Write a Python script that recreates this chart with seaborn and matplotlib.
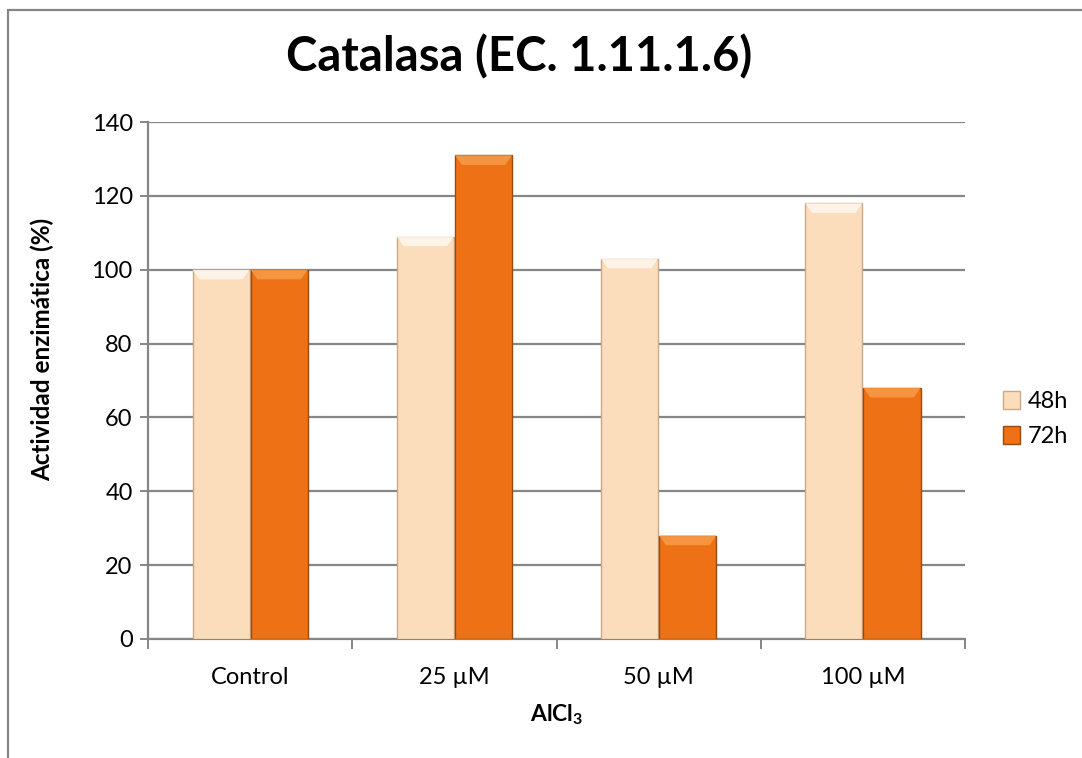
import numpy as np
import pandas as pd
import matplotlib
matplotlib.use("Agg")
import matplotlib.pyplot as plt
from matplotlib.patches import Polygon, Rectangle
import seaborn as sns

# Data
categories = ["Control", "25 µM", "50 µM", "100 µM"]
series_names = ["48h", "72h"]
values_48h = [100, 109, 103, 118]
values_72h = [100, 131, 28, 68]
y_ticks = [0, 20, 40, 60, 80, 100, 120, 140]

colors = {"48h": "#FCDDBB", "72h": "#EF7115"}
edge_colors = {"48h": "#C9A88A", "72h": "#9A4A0E"}
top_colors = {"48h": "#FFF6EC", "72h": "#F79A45"}

df = pd.DataFrame({
    "AlCl3": categories * 2,
    "Tiempo": ["48h"] * len(categories) + ["72h"] * len(categories),
    "Actividad": values_48h + values_72h,
})

sns.set_theme(style="white")
plt.rcParams["font.family"] = ["Lato", "DejaVu Sans"]
plt.rcParams["mathtext.fontset"] = "custom"
plt.rcParams["mathtext.rm"] = "Lato"
plt.rcParams["mathtext.bf"] = "Lato:bold"
plt.rcParams["text.color"] = "black"
plt.rcParams["axes.labelcolor"] = "black"
plt.rcParams["xtick.color"] = "black"
plt.rcParams["ytick.color"] = "black"

fig = plt.figure(figsize=(10.82, 7.58), dpi=100)
ax = fig.add_axes([0.1368, 0.157, 0.7551, 0.682])

sns.barplot(data=df, x="AlCl3", y="Actividad", hue="Tiempo",
            order=categories, hue_order=series_names, palette=colors,
            width=0.57, gap=0.02, saturation=1, ax=ax, legend=False, zorder=3)

# Bevelled look: darker outline and lighter top face on every bar
bars = [p for p in ax.patches if isinstance(p, Rectangle)]
n = len(categories)
for i, p in enumerate(bars):
    s = series_names[i // n]
    p.set_edgecolor(edge_colors[s])
    p.set_linewidth(1.0)
    x0, w, h = p.get_x(), p.get_width(), p.get_height()
    inset_x = w * 0.12
    inset_y = 2.6
    poly = Polygon([[x0, h], [x0 + w, h], [x0 + w - inset_x, h - inset_y],
                    [x0 + inset_x, h - inset_y]], closed=True,
                   facecolor=top_colors[s], edgecolor="none", zorder=4, alpha=0.9)
    ax.add_patch(poly)

ax.set_ylim(0, 140)
ax.set_xlim(-0.5, len(categories) - 0.5)
ax.set_yticks(y_ticks)
ax.yaxis.grid(True, color="#868686", linewidth=1.6, zorder=0)
ax.set_axisbelow(True)

for side in ["top", "right"]:
    ax.spines[side].set_visible(False)
for side in ["left", "bottom"]:
    ax.spines[side].set_color("#868686")
    ax.spines[side].set_linewidth(1.6)

ax.tick_params(axis="y", left=True, length=6, width=1.4, color="#868686",
               labelsize=17, pad=5, labelcolor="black")
ax.set_xticks(range(len(categories)))
ax.set_xticklabels(categories)
ax.tick_params(axis="x", bottom=False, labelsize=17, pad=14, labelcolor="black")
# tick marks between groups
ax.set_xticks(np.arange(-0.5, len(categories), 1.0), minor=True)
ax.tick_params(axis="x", which="minor", bottom=True, length=7, width=1.4,
               color="#868686")

ax.set_xlabel("AlCl$_\\mathbf{3}$", fontsize=16.5, fontweight="bold", labelpad=10)
ax.set_ylabel("Actividad enzimática (%)", fontsize=17.5, fontweight="bold")
ax.yaxis.set_label_coords(-0.115, 0.56)

fig.text(0.48, 0.925, "Catalasa (EC. 1.11.1.6)", ha="center", va="center",
         fontsize=34, fontweight="bold")

# Legend
handles = [Rectangle((0, 0), 1, 1, facecolor=colors[s], edgecolor=edge_colors[s],
                     linewidth=1.0) for s in series_names]
ax.legend(handles, series_names, loc="center left", bbox_to_anchor=(1.02, 0.425),
          frameon=False, fontsize=17, handlelength=0.75, handleheight=0.75,
          handletextpad=0.3, labelspacing=0.6)

# Chart frame
fig.patches.append(Rectangle((8 / 1082, -0.1), 1.2, 1 - 10 / 758 + 0.1,
                             transform=fig.transFigure, fill=False,
                             edgecolor="#868686", linewidth=1.6))

fig.savefig("out.png", dpi=100)
